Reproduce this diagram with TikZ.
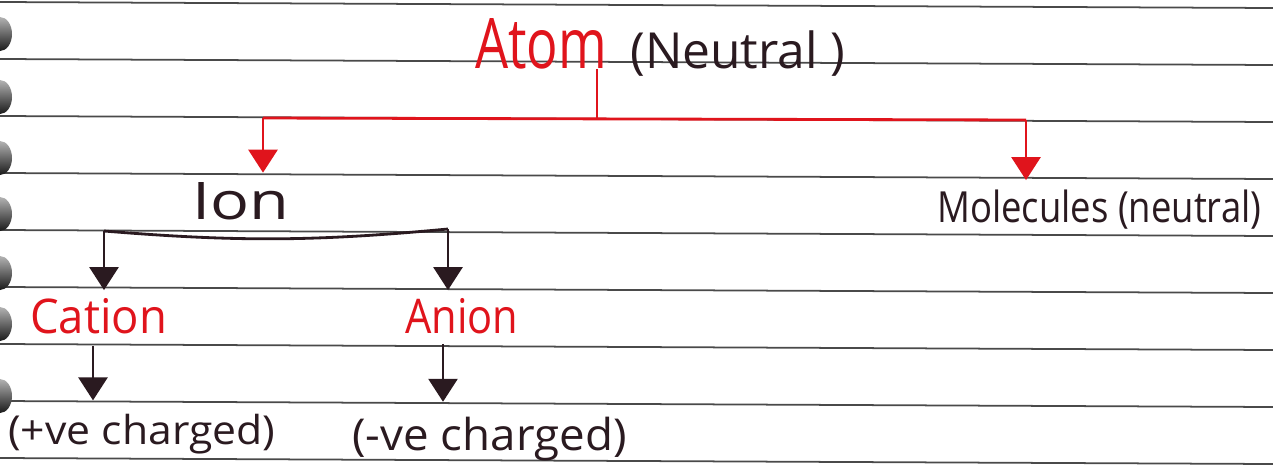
\documentclass[tikz,border=0pt]{standalone}
\usepackage{fontspec}
\setmainfont{Open Sans}
\usetikzlibrary{arrows.meta}
\definecolor{inkred}{HTML}{E0141C}
\definecolor{inkdark}{HTML}{2A1A20}
\definecolor{ruling}{HTML}{4A4A4A}

\begin{document}
\begin{tikzpicture}[x=0.02cm,y=-0.02cm,
  hw/.style 2 args={inner sep=0pt,anchor=base west,font=\fontsize{#1}{#1}\selectfont\addfontfeatures{FakeStretch=#2}},
  rline/.style={inkred,line width=1.6pt},
  bline/.style={inkdark,line width=1.6pt},
  rarrow/.style={rline,-{Triangle[width=0.58cm,length=0.46cm]},shorten >=0.18cm},
  barrow/.style={bline,-{Triangle[width=0.58cm,length=0.46cm]}},
  ring/.style={top color=black!30,bottom color=black!90}]
%feuille lignee
\fill[white] (0,0) rectangle (1273,474);
\useasboundingbox (0,0) rectangle (1273,474);
\foreach \k in {0,...,8}
  \draw[ruling,line width=1pt] (0,{2+57*\k}) -- (1273,{8+57*\k});
%spirale
\foreach \c in {34,97,158,214,273,324,396}
  \shade[ring] (0,\c) ellipse (12 and 17);

\node[hw={39.7pt}{0.75},inkred] (atom) at (475,68) {Atom};
\node[hw={28.3pt}{1.0},inkdark] (neutral) at (630,68) {(Neutral )};
\node[hw={29.5pt}{1.25},inkdark] (ion) at (192,219) {Ion};
\node[hw={24.4pt}{0.85},inkdark] (molecules) at (937,222) {Molecules (neutral)};
\node[hw={27.2pt}{0.95},inkred] (cation) at (30,333) {Cation};
\node[hw={27.2pt}{0.87},inkred] (anion) at (405,333) {Anion};
\node[hw={22.7pt}{1.07},inkdark] (pos) at (8,444) {(+ve charged)};
\node[hw={25pt}{1.04},inkdark] (neg) at (352,450) {(-ve charged)};

%atome -> ion, molecules
\coordinate (fork) at (597,118);
\coordinate (forkl) at (263,118);
\coordinate (forkr) at (1026,120);
\draw[rline] (fork |- atom.south) -- (fork);
\draw[rline] (forkl) -- (forkr);
\draw[rarrow] (forkl) -- (forkl |- ion.north);
\draw[rarrow] (forkr) -- (forkr |- molecules.north);

%ion -> cation, anion
\coordinate (ionl) at (104,231);
\coordinate (ionr) at (448,229);
\draw[bline] (ionl) to[bend right=5] (ionr);
\draw[barrow,shorten >=0.15cm] (ionl) -- (cation.north -| ionl);
\draw[barrow,shorten >=0.15cm] (ionr) -- (anion.north -| ionr);

%charges
\coordinate (cx) at (93,0);
\coordinate (ax) at (443,0);
\draw[barrow,shorten <=0.24cm,shorten >=0.26cm] (cation.south -| cx) -- (pos.north -| cx);
\draw[barrow,shorten <=0.2cm,shorten >=0.29cm] (anion.south -| ax) -- (neg.north -| ax);
\end{tikzpicture}
\end{document}
